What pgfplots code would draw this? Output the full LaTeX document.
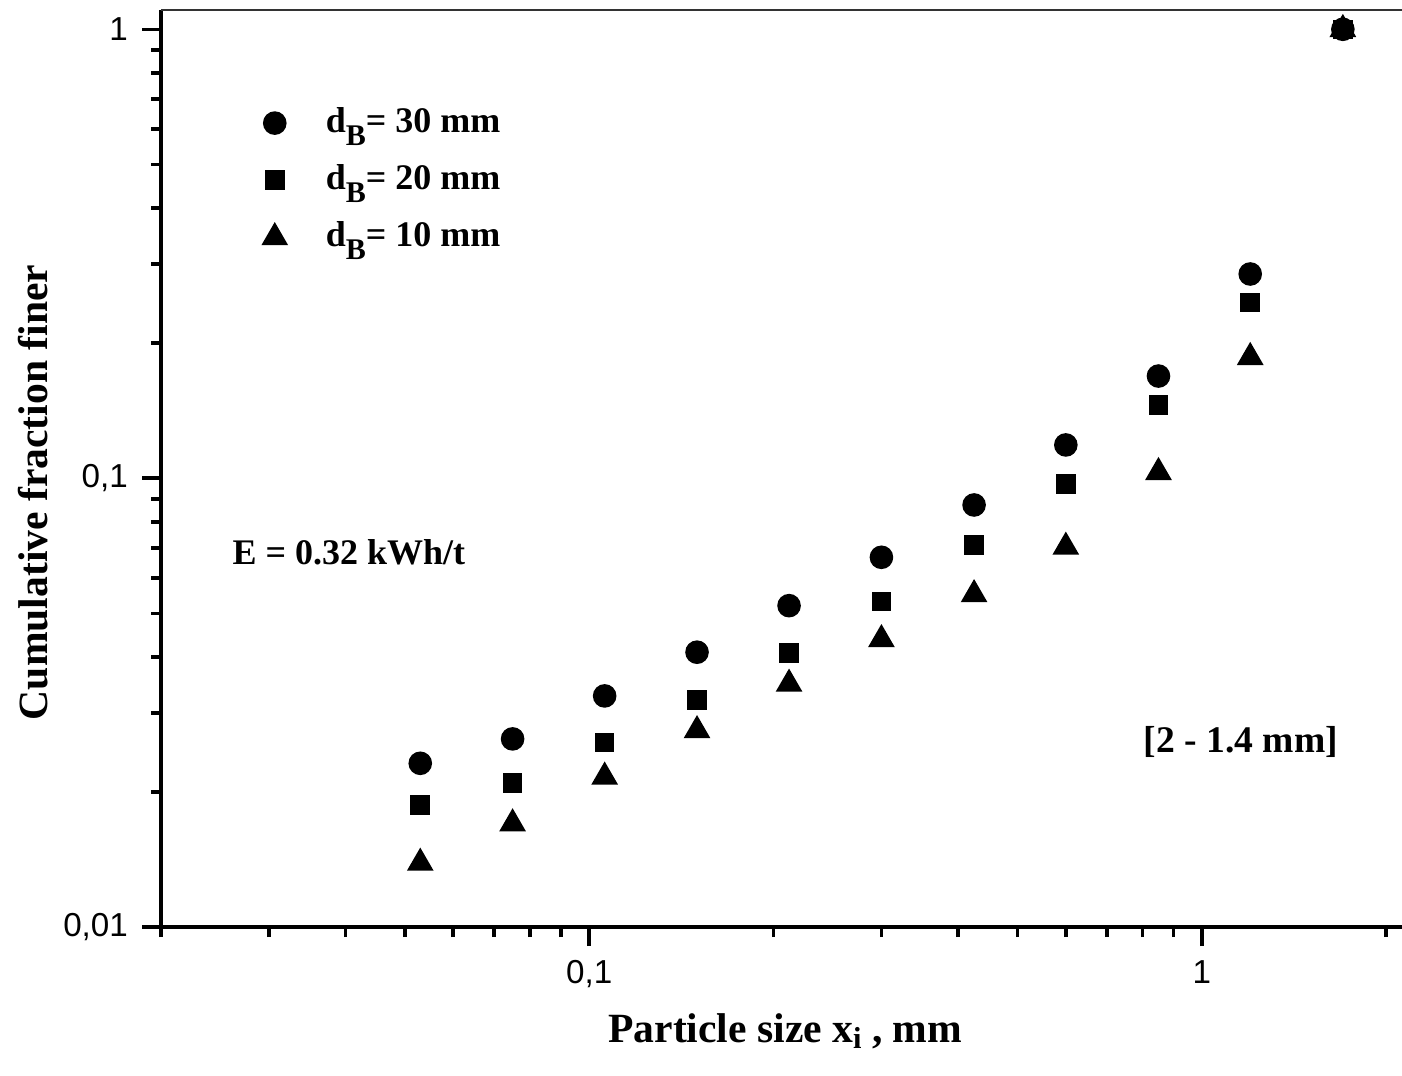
\documentclass[border=0pt]{standalone}
\usepackage{pgfplots}
\pgfplotsset{compat=1.18}
\usepackage{fontspec}
\setmainfont{Liberation Serif}
\newfontfamily\arialf{Liberation Sans}
\newcommand{\subB}{\raisebox{-3.2pt}{\fontsize{7.5}{8}\selectfont B}}

\begin{document}
\begin{tikzpicture}
\begin{axis}[
  xmode=log, ymode=log,
  scale only axis, width=310.25pt, height=229.3pt,
  xmin=0.02, xmax=2.123, ymin=0.01, ymax=1.104,
  axis lines=left,
  axis line style={-, line width=0.9pt},
  tick align=outside,
  major tick length=4.75pt, minor tick length=2.5pt,
  every tick/.style={black, line width=0.9pt},
  xtick={0.1,1}, xticklabels={{0,1},{1}},
  ytick={0.01,0.1,1}, yticklabels={{0,01},{0,1},{1}},
  minor xtick={0.02,0.03,0.04,0.05,0.06,0.07,0.08,0.09,0.2,0.3,0.4,0.5,0.6,0.7,0.8,0.9,2},
  minor ytick={0.02,0.03,0.04,0.05,0.06,0.07,0.08,0.09,0.2,0.3,0.4,0.5,0.6,0.7,0.8,0.9},
  tick label style={font=\arialf\fontsize{8.3}{9}\selectfont},
  xlabel={Particle size x\raisebox{-1.6pt}{\fontsize{7.6}{8}\selectfont i} , mm},
  ylabel={Cumulative fraction finer},
  label style={font=\bfseries\fontsize{10.4}{12}\selectfont},
  xlabel style={at={(axis description cs:0.503,-0.1254)}, anchor=base},
  ylabel style={at={(axis description cs:-0.0911,0.474)}, anchor=base},
  clip=false,
  legend style={at={(axis description cs:0,1)}, anchor=north west, xshift=22.25pt, yshift=-20.2pt,
    draw=none, fill=none, font=\bfseries\fontsize{9}{11}\selectfont, row sep=2.55pt,
    /tikz/every odd column/.append style={column sep=7.75pt}},
  legend cell align=left,
]
\addplot[only marks, mark=*, mark size=2.75pt, black] coordinates {
(0.053,0.02318) (0.075,0.02627) (0.106,0.03275) (0.15,0.04098) (0.212,0.05203)
(0.3,0.06668) (0.425,0.08720) (0.6,0.11864) (0.85,0.16894) (1.2,0.2851) (1.7,1)};
\addlegendentry{d\subB= 30 mm}
\addplot[only marks, mark=square*, mark size=2.25pt, black] coordinates {
(0.053,0.01873) (0.075,0.02093) (0.106,0.02577) (0.15,0.03203) (0.212,0.04076)
(0.3,0.05310) (0.425,0.07101) (0.6,0.09696) (0.85,0.14564) (1.2,0.2461) (1.7,1)};
\addlegendentry{d\subB= 20 mm}
\addplot[only marks, mark=triangle*, mark size=3.46pt, black] coordinates {
(0.053,0.01390) (0.075,0.01701) (0.106,0.02162) (0.15,0.02743) (0.212,0.03482)
(0.3,0.04375) (0.425,0.05510) (0.6,0.07030) (0.85,0.1031) (1.2,0.1860) (1.7,1)};
\addlegendentry{d\subB= 10 mm}
\draw[line width=0.3pt, black!80] (rel axis cs:0,1) -- (rel axis cs:1,1);
\node[anchor=west, inner sep=0pt, font=\bfseries\fontsize{9}{11}\selectfont] at (axis cs:0.0261,0.0683) {E = 0.32 kWh/t};
\node[anchor=west, inner sep=0pt, font=\bfseries\fontsize{9.4}{11}\selectfont] at (axis cs:0.802,0.0258) {[2 - 1.4 mm]};
\end{axis}
\pgfresetboundingbox
\path[use as bounding box] (-40.25pt,-37.175pt) rectangle (310.25pt,231.8pt);
\end{tikzpicture}
\end{document}
